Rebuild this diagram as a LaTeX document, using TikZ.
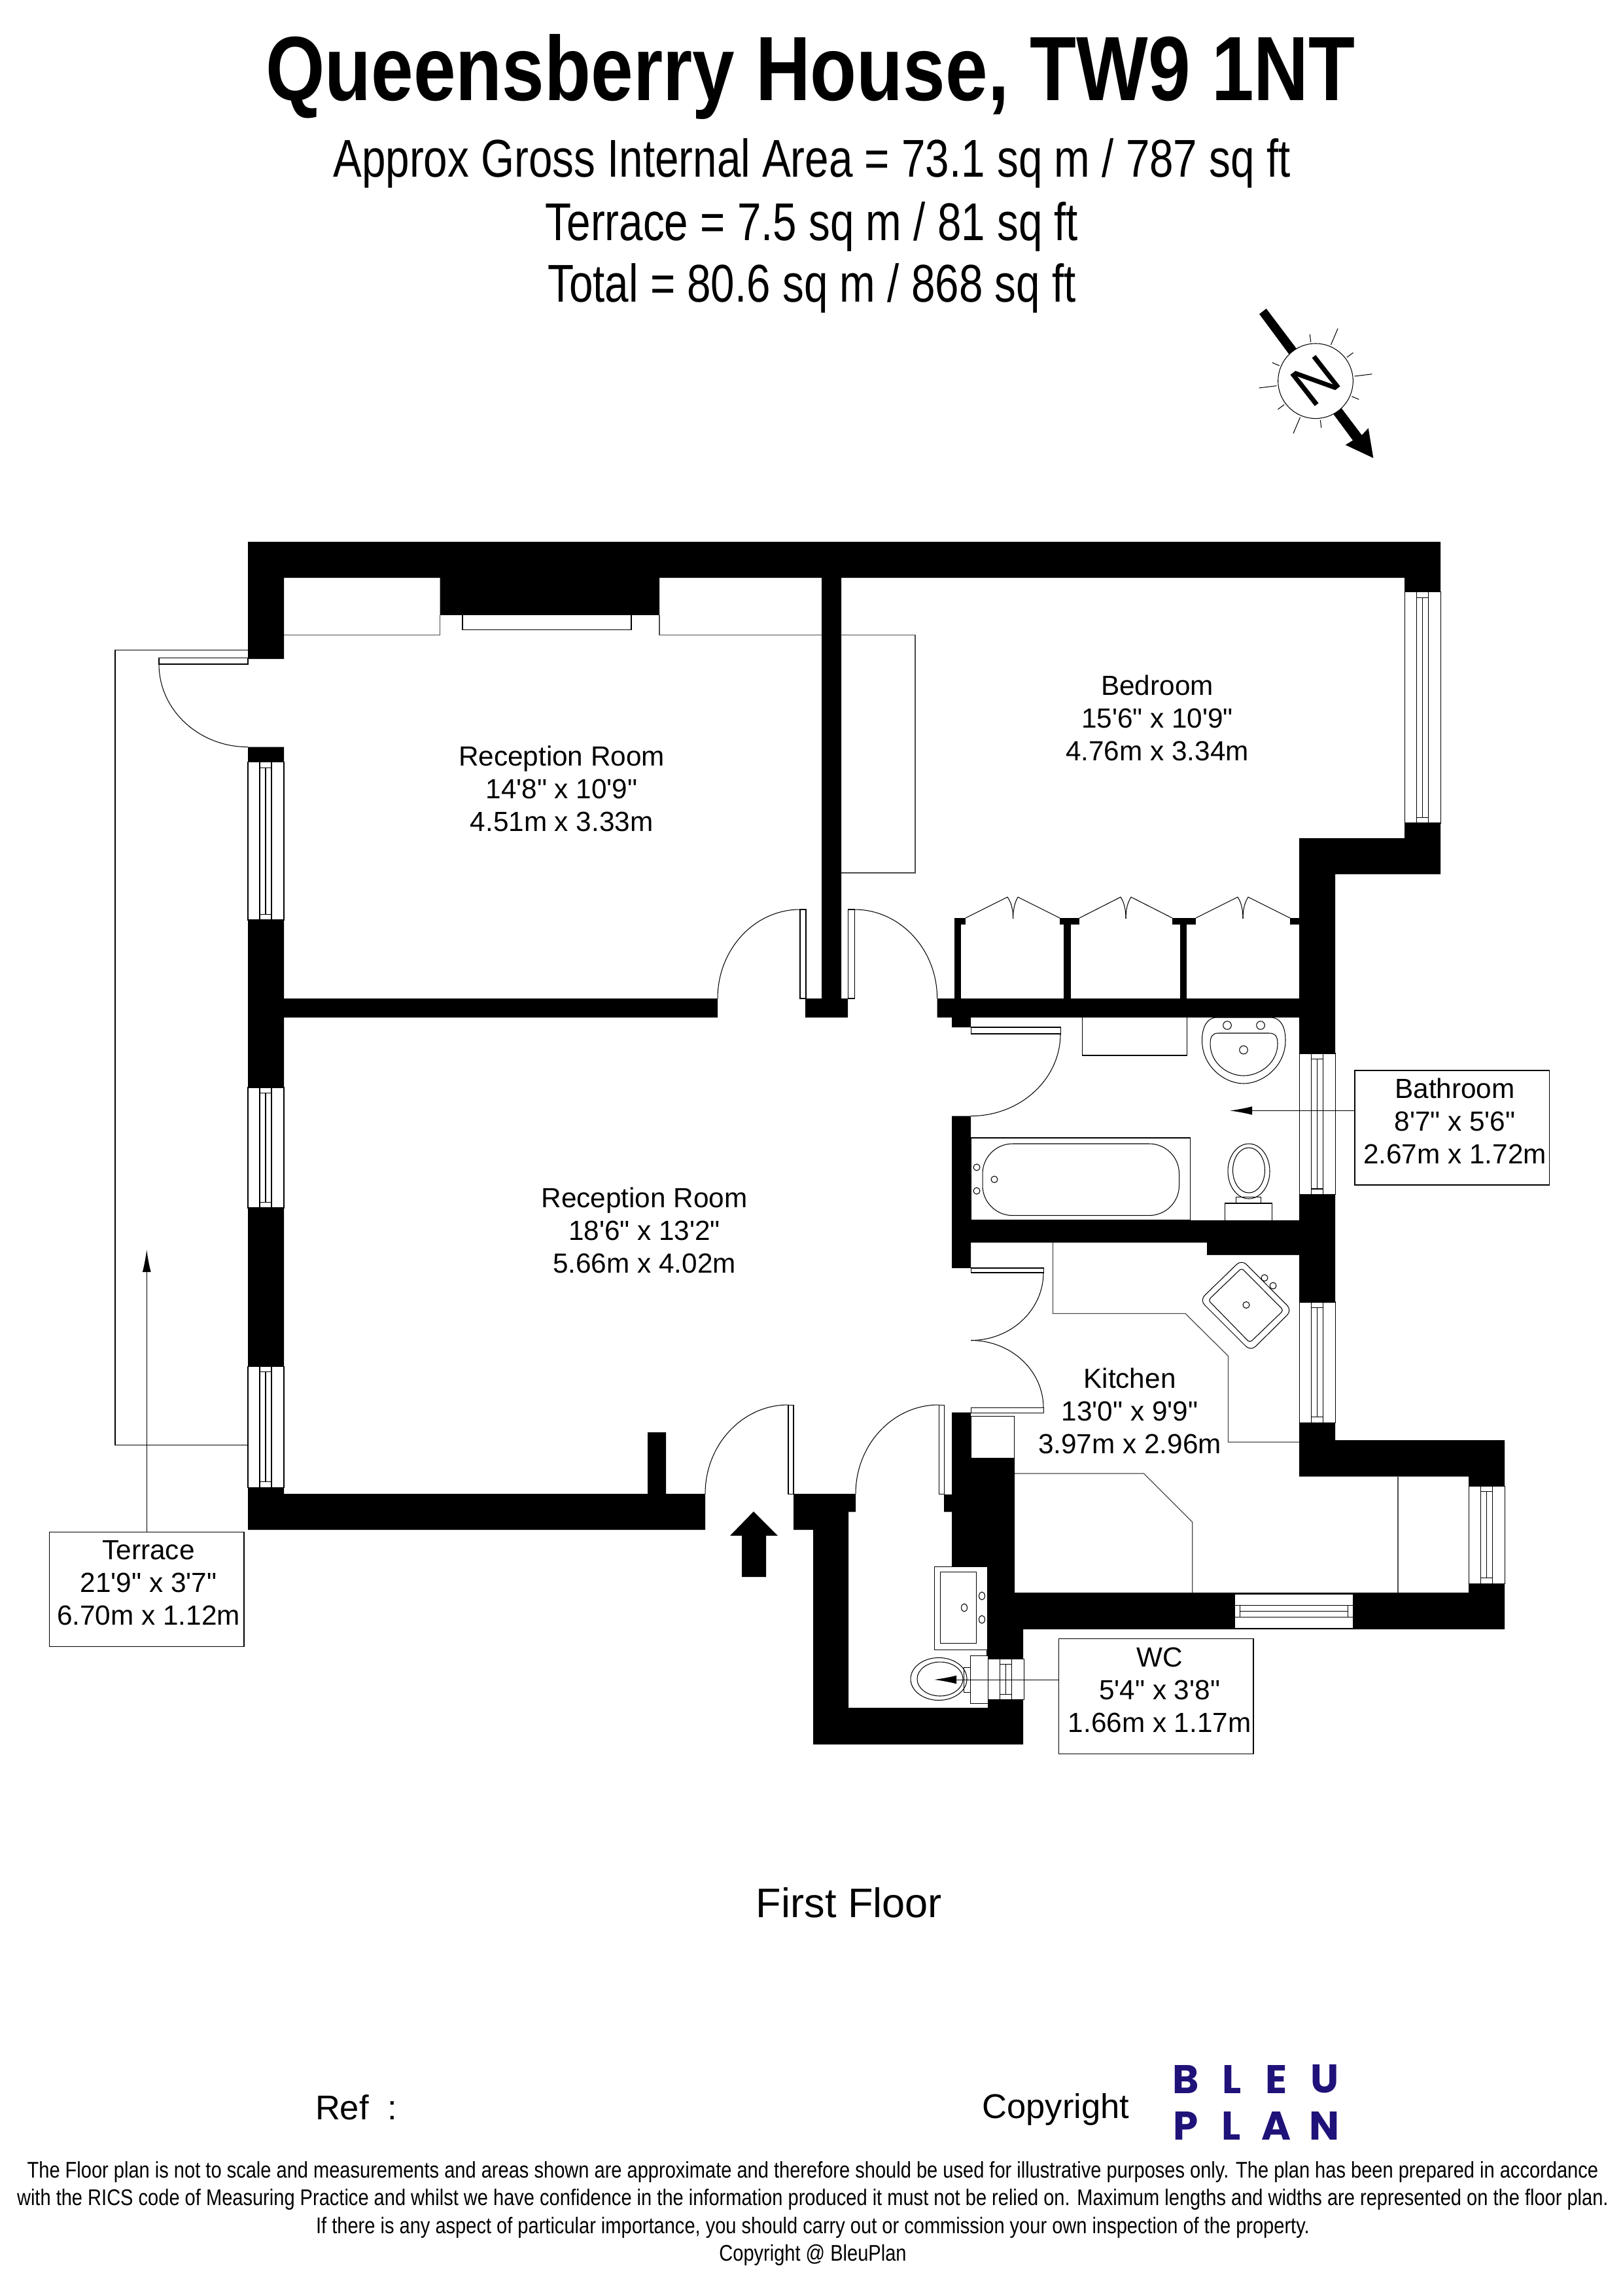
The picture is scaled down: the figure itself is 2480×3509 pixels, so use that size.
\documentclass[tikz,border=0pt]{standalone}
\usepackage{fontspec}
\usetikzlibrary{arrows.meta}
\setmainfont{Liberation Sans}[Ligatures=TeXOff]
\newfontfamily\headfont{Liberation Sans}[FakeStretch=0.832]
\newfontfamily\areafont{Liberation Sans}[FakeStretch=0.807]
\newfontfamily\smallfont{Liberation Sans}[FakeStretch=0.84]
\newfontfamily\logofont{Poppins}
\definecolor{logoblue}{HTML}{1F1279}
\newcommand{\swing}[4]{(#1,#2) .. controls ({#1},{#2+0.552*(#4-#2)}) and ({#3-0.552*(#3-#1)},{#4}) .. (#3,#4)}
\begin{document}
\begin{tikzpicture}[x=0.24pt,y=-0.24pt,line width=0.25pt,
  every node/.style={inner sep=0pt,outer sep=0pt},
  fine/.style={line width=0.25pt},
  grey/.style={line width=0.3pt,black!70},
  room/.style={align=center,font=\fontsize{10.15}{12}\selectfont},
  infobox/.style={draw,fine},
  area/.style={font=\areafont\fontsize{19.5}{23}\selectfont},
  small/.style={font=\smallfont\fontsize{8.3}{10}\selectfont},
  logo/.style={font=\logofont\bfseries\fontsize{14.7}{15}\selectfont,text=logoblue},
  lead/.style={fine,-{Latex[length=8.2pt,width=3.1pt]}}]
\useasboundingbox (0,0) rectangle (2480,3509);
% heading
\node[font=\headfont\bfseries\fontsize{33.5}{36}\selectfont] (title) at (1239,117) {Queensberry House, TW9 1NT};
\node[area] (gia) at (1241,250) {Approx Gross Internal Area = 73.1 sq m / 787 sq ft};
\node[area] (terracearea) at (1241,346) {Terrace = 7.5 sq m / 81 sq ft};
\node[area] (total) at (1241,440) {Total = 80.6 sq m / 868 sq ft};
% north point
\fill (1925,480) -- (1935.7,471.7) -- (2081.7,665) -- (2091.7,654.3) -- (2099.3,700) -- (2056.7,680) -- (2068,673) -- cycle;
\filldraw[fine,fill=white] (2011,582.3) circle (57.3);
\foreach \a/\r in {7/87,37/72,67/87,97/72,157/72,187/87,217/72,247/87,277/72,337/72} {
  \draw[fine] ({2011+60*cos(\a)},{582.3-60*sin(\a)}) -- ({2011+\r*cos(\a)},{582.3-\r*sin(\a)});
}
\node[rotate=-142,font=\fontsize{21.2}{22}\selectfont] (north) at (2011,582.3) {N};
% terrace
\draw[fine] (379,993.5) -- (176,993.5) -- (176,2208) -- (379,2208);
% fittings under the walls
\draw[grey] (434,970.6) -- (672.5,970.6) -- (672.5,940) (1008,940) -- (1008,970.6) -- (1399,970.6) -- (1399,1334) -- (1286,1334);
\draw[fine] (707,940) -- (707,962.5) -- (965,962.5) -- (965,940);
\draw[fine] (1654,1555) -- (1654,1613) -- (1814,1613) -- (1814,1555);
\draw[fine] (1860,1555) -- (1942,1555) .. controls (1958,1555) and (1965,1570) .. (1965,1590) .. controls (1965,1630) and (1930,1656) .. (1901,1656) .. controls (1872,1656) and (1837.5,1630) .. (1837.5,1590) .. controls (1837.5,1570) and (1845,1555) .. (1860,1555);
\draw[fine] (1862,1579) -- (1940,1579) .. controls (1950,1579) and (1953,1585) .. (1953,1595) .. controls (1953,1625) and (1925,1644) .. (1901,1644) .. controls (1877,1644) and (1850,1625) .. (1850,1595) .. controls (1850,1585) and (1853,1579) .. (1862,1579) -- cycle;
\foreach \x/\y in {1876/1567,1927/1567,1901/1604.6} \draw[fine] (\x,\y) circle (6.3);
% bath
\draw[fine] (1484.5,1739) rectangle (1819,1865);
\draw[fine,rounded corners=11pt] (1502,1748) rectangle (1802.5,1857.6);
\foreach \x/\y in {1493/1784,1493/1820,1520/1802.5} \draw[fine] (\x,\y) circle (5);
% bathroom wc
\draw[fine] (1872,1865) -- (1872,1839) -- (1944,1839) -- (1944,1865) (1889.5,1839) -- (1889.5,1829.6) -- (1927,1829.6) -- (1927,1839);
\draw[fine] (1909,1790) ellipse (32 and 42);
\draw[fine] (1909,1788.5) ellipse (24.5 and 34.5);
% kitchen
\draw[grey] (1609.5,1899) -- (1609.5,2007.6) -- (1812,2007.6) -- (1877.5,2072.4) -- (1877.5,2204) -- (1986,2204);
\draw[fine,rounded corners=2.5pt] (1898,1925) -- (1975,2002.5) -- (1912,2065) -- (1834,1987) -- cycle;
\draw[fine,rounded corners=1pt] (1898,1938) -- (1962,2002.5) -- (1910.5,2052) -- (1847,1987) -- cycle;
\foreach \x/\y in {1933/1953,1946/1965,1905/1994.4} \draw[fine] (\x,\y) circle (5);
\draw[grey] (1551,2252) -- (1748.5,2252) -- (1822.6,2326) -- (1822.6,2434);
\draw[grey] (2137,2256.5) -- (2137,2434);
% walls
\fill (379,828) rectangle (2202,883) (379,883) rectangle (434,1007) (672.5,883) rectangle (1008,940)
  (2147,883) rectangle (2202,904.6) (1256,883) rectangle (1286,1526) (1231,1526) rectangle (1296,1555)
  (2147,1258) rectangle (2202,1336) (1986,1281) rectangle (2147,1336) (1986,1336) rectangle (2041,1610)
  (379,1141.6) rectangle (434,1164.6) (379,1406) rectangle (434,1662) (379,1846) rectangle (434,2088)
  (379,2273) rectangle (434,2283) (379,2283) rectangle (1078,2338) (990,2189) rectangle (1018,2283)
  (434,1526) rectangle (1097,1555) (1432.6,1526) rectangle (1986,1555) (1455,1555) rectangle (1484,1570);
\foreach \xa/\xb in {1459/1469.4,1626/1637,1804/1814} \fill (\xa,1405) rectangle (\xb,1526);
\foreach \xa/\xb in {1459/1476,1620/1650,1792/1828,1972/1986} \fill (\xa,1403) rectangle (\xb,1413);
\fill (1455,1705.6) rectangle (1484,1938) (1455,1865) rectangle (1986,1899) (1845,1899) rectangle (1986,1918)
  (1986,1825.5) rectangle (2041,1990) (1986,2174) rectangle (2041,2256.5) (2041,2201) rectangle (2300,2256.5)
  (2245,2256.5) rectangle (2300,2271) (2245,2420) rectangle (2300,2434) (1551,2434) rectangle (2300,2490)
  (1455,2158.6) rectangle (1484,2228.6) (1455,2228.6) rectangle (1551,2434) (1508,2434) rectangle (1564,2535)
  (1213,2283) rectangle (1308,2310.5) (1213,2310.5) rectangle (1297,2338) (1243,2338) rectangle (1297,2666)
  (1243,2610) rectangle (1564,2666) (1510,2597.5) rectangle (1564,2610) (1443,2284) rectangle (1455,2310.5);
% windows
\foreach \xa/\ya/\yb in {379/1164.6/1406,379/1662/1846,379/2088/2273,2147/904.6/1258,1986/1610/1825.5,1986/1990/2174,2245/2271/2420,1510/2535/2597.5} {
  \filldraw[fine,fill=white] (\xa,\ya) rectangle (\xa+55,\yb);
  \draw[fine] (\xa+18,\ya) rectangle (\xa+36,\yb);
  \draw[fine] (\xa+27,\ya+8.5) -- (\xa+27,\yb-8.5) (\xa+18,\ya+8.5) -- (\xa+36,\ya+8.5) (\xa+18,\yb-8.5) -- (\xa+36,\yb-8.5);
}
\filldraw[fine,fill=white] (1887,2436) rectangle (2068,2488);
\draw[fine] (1887,2453.5) rectangle (2068,2471.5);
\draw[fine] (1895,2453.5) -- (1895,2471.5) (2060,2453.5) -- (2060,2471.5) (1895,2462.5) -- (2060,2462.5);
% doors
\foreach \xa/\ya/\xb/\yb in {243/1005.6/379/1015,1223/1390/1232/1526,1296/1390/1306/1526,1484/1570/1621/1580,1484/1938/1595/1945,1484/2151.5/1595/2159,1205/2147/1213/2283,1435/2147/1443/2283} {
  \filldraw[fine,fill=white] (\xa,\ya) rectangle (\xb,\yb);
}
\draw[fine] \swing{243}{1015}{379}{1141.6};
\draw[fine] \swing{1097}{1526}{1223}{1390};
\draw[fine] \swing{1432.6}{1526}{1306}{1390};
\draw[fine] \swing{1621}{1580}{1484}{1705.6};
\draw[fine] \swing{1595}{1945}{1484}{2048.5};
\draw[fine] \swing{1595}{2151.5}{1484}{2048.5};
\draw[fine] \swing{1078}{2283}{1205}{2147};
\draw[fine] \swing{1308}{2283}{1435}{2147};
% wardrobe doors
\foreach \xa/\xb/\xc/\xd/\xe in {1476/1540/1548.6/1556/1620,1650/1713/1721/1729/1792,1828/1892/1900/1908/1972} {
  \draw[fine] (\xa,1403) -- (\xb,1371) .. controls (\xc-2,1380) and (\xc,1392) .. (\xc,1404);
  \draw[fine] (\xe,1403) -- (\xd,1371) .. controls (\xc+2,1380) and (\xc,1392) .. (\xc,1404);
}
% box beside the kitchen door
\filldraw[fine,fill=white] (1484.5,2164) rectangle (1550,2228.6);
% wc room
\filldraw[fine,fill=white] (1428,2394) rectangle (1509,2521);
\draw[fine] (1437,2402) rectangle (1492,2511);
\foreach \x/\y in {1501/2439,1474/2457,1501/2475} \draw[fine] (\x,\y) ellipse (4.5 and 6);
\filldraw[fine,fill=white] (1483,2530) rectangle (1510,2603);
\draw[fine] (1473,2548) rectangle (1483,2586);
\draw[fine] (1435,2566) ellipse (43 and 32.5);
\draw[fine] (1437,2566) ellipse (35 and 26);
% entrance arrow
\fill (1152,2310) -- (1189,2347) -- (1171,2347) -- (1171,2410) -- (1134,2410) -- (1134,2347) -- (1116,2347) -- cycle;
% room labels
\node[room] (receptionone) at (858.6,1205) {Reception Room\\14'8" x 10'9"\\4.51m x 3.33m};
\node[room] (bedroom) at (1769,1097) {Bedroom\\15'6" x 10'9"\\4.76m x 3.34m};
\node[room] (receptiontwo) at (985,1880) {Reception Room\\18'6" x 13'2"\\5.66m x 4.02m};
\node[room] (kitchen) at (1727,2156) {Kitchen\\13'0" x 9'9"\\3.97m x 2.96m};
% labels in boxes
\node[infobox,minimum width=71.3pt,minimum height=42pt] (bathroombox) at (2219.5,1723.5) {};
\node[infobox,minimum width=71.5pt,minimum height=42.2pt] (wcbox) at (1767,2592.5) {};
\node[infobox,minimum width=71.4pt,minimum height=42.1pt] (terracebox) at (224.25,2428.8) {};
\node[room] (bathroomtext) at (2224,1713) {Bathroom\\8'7" x 5'6"\\2.67m x 1.72m};
\node[room] (wctext) at (1772.6,2583) {WC\\5'4" x 3'8"\\1.66m x 1.17m};
\node[room] (terracetext) at (227,2419) {Terrace\\21'9" x 3'7"\\6.70m x 1.12m};
\coordinate (bathroomtip) at (1880,1697.4);
\coordinate (wctip) at (1428,2567);
\coordinate (terracetip) at (224.25,1910);
\draw[lead] (bathroombox.west |- bathroomtip) -- (bathroomtip);
\draw[lead] (wcbox.west |- wctip) -- (wctip);
\draw[lead] (terracebox.north) -- (terracetip);
% foot of the page
\node[font=\fontsize{15.15}{18}\selectfont] (floor) at (1298,2908) {First Floor};
\node[font=\fontsize{12.6}{15}\selectfont,anchor=west] (ref) at (482,3221) {Ref\ \ :};
\node[font=\fontsize{12.6}{15}\selectfont] (copyright) at (1614,3224) {Copyright};
\foreach \t/\x/\y in {B/1812.7/3177.5,L/1883.5/3177.5,E/1951.5/3177.5,U/2024.7/3177.5,P/1812.3/3249.3,L/1882.3/3249.3,A/1951/3249.3,N/2024.7/3249.3} {
  \node[logo] (logo\t\x) at (\x,\y) {\t};
}
\node[small] (noteone) at (1242.5,3320) {The Floor plan is not to scale and measurements and areas shown are approximate and therefore should be used for illustrative purposes only. The plan has been prepared in accordance};
\node[small] (notetwo) at (1242.5,3362) {with the RICS code of Measuring Practice and whilst we have confidence in the information produced it must not be relied on. Maximum lengths and widths are represented on the floor plan.};
\node[small] (notethree) at (1242.5,3405) {If there is any aspect of particular importance, you should carry out or commission your own inspection of the property.};
\node[small] (notefour) at (1242.5,3447) {Copyright @ BleuPlan};
\end{tikzpicture}
\end{document}
